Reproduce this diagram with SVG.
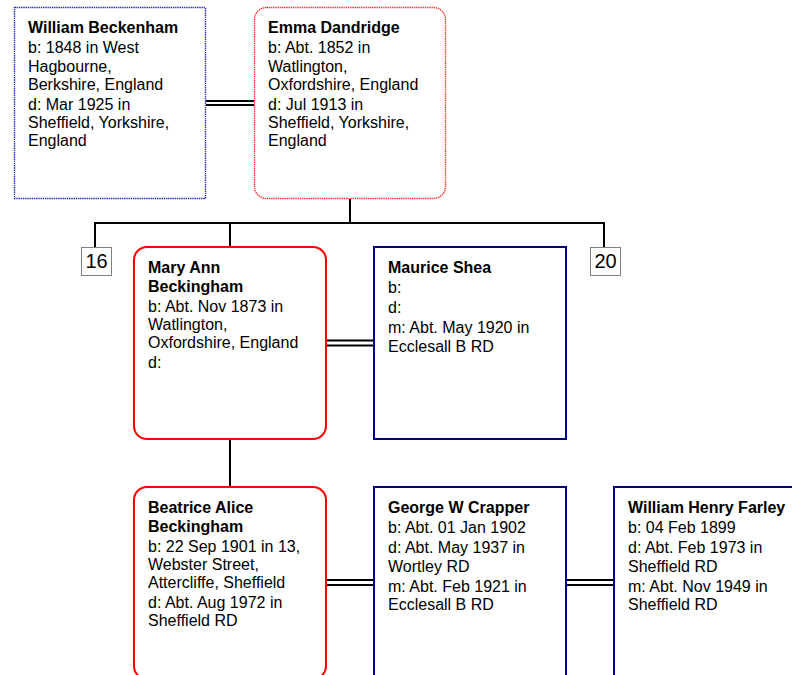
<svg xmlns="http://www.w3.org/2000/svg" width="792" height="675" viewBox="0 0 792 675">
<style>
  text { font-family: "Liberation Sans", Arial, sans-serif; font-size: 16px; fill: #000; }
  .n { font-weight: bold; }
  .num { font-size: 20px; text-anchor: middle; }
  .mdot { fill: #fff; stroke: #2828c0; stroke-width: 1.4; stroke-dasharray: 1.4 0.8; }
  .fdot { fill: #fff; stroke: #ff3030; stroke-width: 1.4; stroke-dasharray: 1.4 0.8; }
  .m { fill: #fff; stroke: #000080; stroke-width: 2; }
  .f { fill: #fff; stroke: #ff0000; stroke-width: 2; }
  .ref { fill: #fff; stroke: #808080; stroke-width: 1; }
  .c { stroke: #000; stroke-width: 2; fill: none; }
</style>
<rect width="792" height="675" fill="#fff"/>
<g id="connectors">
  <line class="c" x1="206" y1="101" x2="254" y2="101"/>
  <line class="c" x1="206" y1="105" x2="254" y2="105"/>
  <line class="c" x1="350" y1="199" x2="350" y2="223"/>
  <line class="c" x1="94" y1="223" x2="605" y2="223"/>
  <line class="c" x1="95" y1="223" x2="95" y2="247"/>
  <line class="c" x1="230" y1="223" x2="230" y2="247"/>
  <line class="c" x1="604" y1="223" x2="604" y2="247"/>
  <line class="c" x1="326" y1="340.5" x2="374" y2="340.5"/>
  <line class="c" x1="326" y1="345.5" x2="374" y2="345.5"/>
  <line class="c" x1="230" y1="439" x2="230" y2="487"/>
  <line class="c" x1="326" y1="580" x2="374" y2="580"/>
  <line class="c" x1="326" y1="585" x2="374" y2="585"/>
  <line class="c" x1="566" y1="580" x2="614" y2="580"/>
  <line class="c" x1="566" y1="585" x2="614" y2="585"/>
</g>
<g id="william-beckenham">
  <rect class="mdot" x="14.5" y="7.5" width="191" height="191"/>
  <text x="28" y="33.3" class="n">William Beckenham</text>
  <text x="28" y="53.3">b: 1848 in West</text>
  <text x="28" y="71.5">Hagbourne,</text>
  <text x="28" y="89.7">Berkshire, England</text>
  <text x="28" y="109.7">d: Mar 1925 in</text>
  <text x="28" y="127.9">Sheffield, Yorkshire,</text>
  <text x="28" y="146.1">England</text>
</g>
<g id="emma-dandridge">
  <rect class="fdot" x="254.5" y="7.5" width="191" height="191" rx="12"/>
  <text x="268" y="33.3" class="n">Emma Dandridge</text>
  <text x="268" y="53.3">b: Abt. 1852 in</text>
  <text x="268" y="71.5">Watlington,</text>
  <text x="268" y="89.7">Oxfordshire, England</text>
  <text x="268" y="109.7">d: Jul 1913 in</text>
  <text x="268" y="127.9">Sheffield, Yorkshire,</text>
  <text x="268" y="146.1">England</text>
</g>
<g id="ref-16">
  <rect class="ref" x="81.5" y="247.5" width="30" height="28"/>
  <text x="96.5" y="268" class="num">16</text>
</g>
<g id="ref-20">
  <rect class="ref" x="590.5" y="247.5" width="30" height="28"/>
  <text x="605.5" y="268" class="num">20</text>
</g>
<g id="mary-ann-beckingham">
  <rect class="f" x="134" y="247" width="192" height="192" rx="13"/>
  <text x="148" y="273.3" class="n">Mary Ann</text>
  <text x="148" y="291.5" class="n">Beckingham</text>
  <text x="148" y="311.5">b: Abt. Nov 1873 in</text>
  <text x="148" y="329.7">Watlington,</text>
  <text x="148" y="347.9">Oxfordshire, England</text>
  <text x="148" y="367.9">d:</text>
</g>
<g id="maurice-shea">
  <rect class="m" x="374" y="247" width="192" height="192"/>
  <text x="388" y="273.3" class="n">Maurice Shea</text>
  <text x="388" y="293.3">b:</text>
  <text x="388" y="313.3">d:</text>
  <text x="388" y="333.3">m: Abt. May 1920 in</text>
  <text x="388" y="351.5">Ecclesall B RD</text>
</g>
<g id="beatrice-alice-beckingham">
  <rect class="f" x="134" y="487" width="192" height="192" rx="13"/>
  <text x="148" y="513.3" class="n">Beatrice Alice</text>
  <text x="148" y="531.5" class="n">Beckingham</text>
  <text x="148" y="551.5">b: 22 Sep 1901 in 13,</text>
  <text x="148" y="569.7">Webster Street,</text>
  <text x="148" y="587.9">Attercliffe, Sheffield</text>
  <text x="148" y="607.9">d: Abt. Aug 1972 in</text>
  <text x="148" y="626.1">Sheffield RD</text>
</g>
<g id="george-w-crapper">
  <rect class="m" x="374" y="487" width="192" height="192"/>
  <text x="388" y="513.3" class="n">George W Crapper</text>
  <text x="388" y="533.3">b: Abt. 01 Jan 1902</text>
  <text x="388" y="553.3">d: Abt. May 1937 in</text>
  <text x="388" y="571.5">Wortley RD</text>
  <text x="388" y="591.5">m: Abt. Feb 1921 in</text>
  <text x="388" y="609.7">Ecclesall B RD</text>
</g>
<g id="william-henry-farley">
  <rect class="m" x="614" y="487" width="192" height="192"/>
  <text x="628" y="513.3" class="n">William Henry Farley</text>
  <text x="628" y="533.3">b: 04 Feb 1899</text>
  <text x="628" y="553.3">d: Abt. Feb 1973 in</text>
  <text x="628" y="571.5">Sheffield RD</text>
  <text x="628" y="591.5">m: Abt. Nov 1949 in</text>
  <text x="628" y="609.7">Sheffield RD</text>
</g>
</svg>
